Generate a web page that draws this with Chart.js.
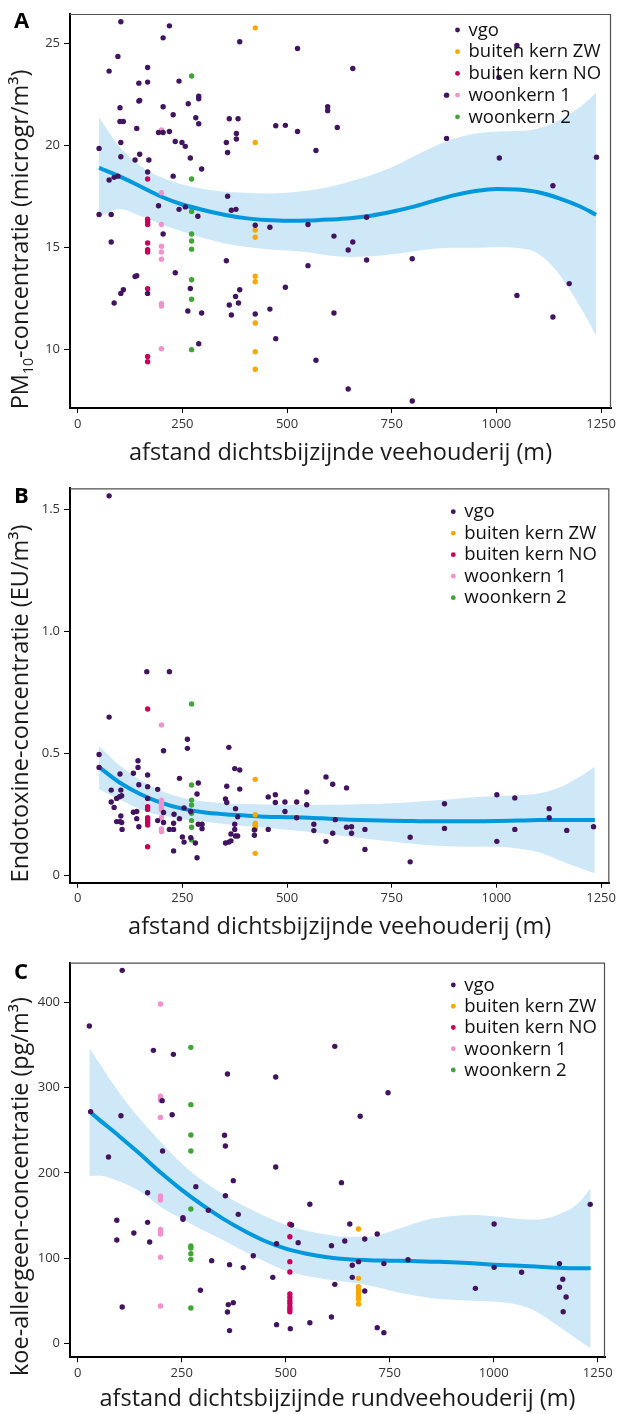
<!DOCTYPE html>
<html><head><meta charset="utf-8">
<script src="https://cdn.jsdelivr.net/npm/chart.js@4.4.1/dist/chart.umd.min.js"></script>
<style>
html,body{margin:0;padding:0;background:#fff;}
#wrap{position:relative;width:617px;height:1414px;overflow:hidden;background:#fff;}
canvas{position:absolute;left:0;}
</style></head><body>
<div id="wrap">
<canvas id="cA" width="617" height="470" style="top:0px"></canvas>
<canvas id="cB" width="617" height="480" style="top:470px"></canvas>
<canvas id="cC" width="617" height="464" style="top:950px"></canvas>
</div>
<script>
// ---------- categories ----------
const groupNames = ['vgo', 'buiten kern ZW', 'buiten kern NO', 'woonkern 1', 'woonkern 2'];
const groupColors = ['#42145F', '#F9A800', '#CA005D', '#F092CD', '#3FA535'];
const xTicks = [0, 250, 500, 750, 1000, 1250];

// ---------- panel A: PM10 ----------
const pmVgo = [[103,26.08],[219,25.88],[204,25.29],[387,25.1],[96,24.38],[75,23.66],[167,23.84],[146,23.07],[167,23.12],[242,23.17],[146,22.19],[148,22.22],[264,22.06],[289,22.3],[289,22.43],[101,21.86],[204,21.91],[228,21.52],[101,21.19],[109,21.19],[282,21.37],[289,21.08],[362,21.32],[383,21.32],[141,20.85],[193,20.65],[204,20.65],[219,20.7],[379,20.6],[379,20.33],[103,20.16],[233,20.21],[249,20.16],[257,19.97],[355,20.16],[358,19.67],[51,19.87],[103,19.46],[148,19.58],[137,19.3],[170,19.3],[269,19.4],[296,18.86],[167,18.71],[96,18.51],[87,18.45],[75,18.32],[228,18.51],[193,17.06],[242,16.88],[257,17.0],[287,16.54],[358,17.52],[367,16.84],[378,16.88],[51,16.63],[80,16.63],[424,16.1],[459,16.0],[550,16.14],[80,15.28],[204,15.67],[355,14.36],[550,14.12],[233,13.77],[137,13.59],[141,13.63],[269,13.0],[109,12.94],[103,12.76],[167,12.76],[377,12.61],[387,12.94],[87,12.29],[362,12.19],[384,12.29],[263,11.9],[296,11.8],[367,11.7],[424,11.75],[459,11.99],[289,10.29],[473,10.54],[496,13.06],[473,20.98],[496,21.0],[525,20.7],[525,24.77],[657,23.79],[1049,24.92],[1006,23.35],[881,22.48],[597,21.91],[597,21.72],[620,20.9],[569,19.77],[881,20.36],[1007,19.4],[1239,19.44],[1135,18.04],[690,16.49],[612,15.57],[657,15.28],[646,14.89],[690,14.4],[799,14.46],[1174,13.24],[1049,12.66],[1135,11.6],[612,11.8],[569,9.48],[646,8.07],[799,7.48]];
const pmZW = [[424,25.78],[424,20.16],[424,15.87],[424,15.51],[424,13.6],[424,13.33],[424,11.31],[424,9.9],[424,9.04]];
const pmNO = [[167,18.37],[167,16.4],[167,16.27],[167,16.14],[167,15.23],[167,14.9],[167,14.79],[167,12.99],[167,9.67],[167,9.41]];
const pmW1 = [[200,20.78],[200,17.7],[200,16.14],[200,15.07],[200,14.79],[200,14.44],[200,12.25],[200,12.14],[200,10.05]];
const pmW2 = [[272,23.42],[272,18.37],[272,16.78],[272,15.67],[272,15.33],[272,14.93],[272,13.43],[272,12.47],[272,10.0]];
const fitXA = [51,100,150,200,250,300,350,400,450,500,550,600,650,700,750,800,850,900,950,1000,1050,1100,1150,1200,1238];
const pmFit = [18.92,18.5,18.0,17.5,17.12,16.85,16.62,16.45,16.36,16.32,16.33,16.38,16.45,16.57,16.76,17.0,17.3,17.58,17.78,17.88,17.85,17.72,17.42,17.02,16.62];
const pmHi  = [21.4,19.95,19.0,18.45,18.1,17.88,17.75,17.7,17.66,17.7,17.8,17.98,18.25,18.55,18.95,19.45,19.95,20.35,20.6,20.7,20.72,20.85,21.25,21.9,22.6];
const pmLo  = [16.5,16.9,16.55,16.15,15.8,15.48,15.22,15.05,14.93,14.86,14.78,14.62,14.55,14.58,14.68,14.82,14.95,15.0,15.0,15.02,14.98,14.7,13.7,12.1,10.7];
const pmYTicks = [10, 15, 20, 25];

// ---------- panel B: endotoxine ----------
const etVgo = [[75,1.554],[75,0.648],[165,0.834],[219,0.834],[51,0.495],[51,0.442],[80,0.349],[80,0.300],[87,0.278],[93,0.315],[100,0.322],[105,0.326],[101,0.415],[103,0.349],[93,0.22],[101,0.22],[105,0.216],[103,0.243],[106,0.188],[133,0.418],[144,0.469],[144,0.442],[146,0.371],[133,0.258],[141,0.261],[141,0.232],[146,0.199],[167,0.411],[167,0.363],[167,0.315],[191,0.352],[191,0.224],[205,0.51],[205,0.257],[205,0.216],[219,0.188],[229,0.188],[229,0.213],[230,0.25],[243,0.397],[243,0.232],[229,0.1],[250,0.157],[254,0.136],[254,0.276],[262,0.557],[262,0.52],[270,0.261],[270,0.154],[281,0.132],[285,0.072],[288,0.378],[285,0.333],[288,0.209],[297,0.209],[297,0.191],[353,0.313],[356,0.298],[356,0.365],[361,0.524],[377,0.273],[382,0.24],[375,0.209],[375,0.188],[375,0.437],[387,0.431],[387,0.353],[353,0.132],[361,0.136],[366,0.141],[366,0.169],[377,0.161],[382,0.161],[422,0.186],[422,0.164],[455,0.321],[472,0.33],[472,0.298],[455,0.188],[495,0.3],[495,0.261],[523,0.3],[523,0.236],[547,0.341],[547,0.289],[593,0.403],[609,0.373],[642,0.358],[564,0.209],[564,0.183],[593,0.139],[609,0.172],[615,0.228],[642,0.197],[654,0.199],[654,0.172],[686,0.188],[686,0.106],[794,0.156],[794,0.055],[876,0.293],[876,0.192],[1001,0.33],[1001,0.139],[1044,0.317],[1044,0.188],[1126,0.273],[1126,0.236],[1168,0.184],[1232,0.199]];
const etZW = [[424,0.393],[424,0.248],[424,0.213],[424,0.205],[424,0.197],[424,0.188],[424,0.09]];
const etNO = [[167,0.681],[167,0.281],[167,0.27],[167,0.236],[167,0.227],[167,0.216],[167,0.206],[167,0.117]];
const etW1 = [[200,0.616],[200,0.308],[200,0.298],[200,0.288],[200,0.278],[200,0.268],[200,0.237],[200,0.19],[200,0.179]];
const etW2 = [[272,0.702],[272,0.37],[272,0.308],[272,0.288],[272,0.254],[272,0.224],[272,0.197],[272,0.145]];
const fitXB = [51,100,150,200,250,300,350,400,450,500,550,600,650,700,750,800,850,900,950,1000,1050,1100,1150,1200,1235];
const etFit = [0.443,0.38,0.332,0.297,0.273,0.258,0.25,0.245,0.24,0.238,0.236,0.232,0.228,0.225,0.223,0.222,0.221,0.221,0.221,0.222,0.224,0.226,0.227,0.227,0.227];
const etHi  = [0.53,0.45,0.39,0.345,0.318,0.303,0.295,0.292,0.29,0.289,0.288,0.289,0.29,0.292,0.295,0.3,0.306,0.313,0.32,0.325,0.328,0.335,0.36,0.405,0.445];
const etLo  = [0.352,0.31,0.27,0.245,0.23,0.22,0.21,0.202,0.195,0.187,0.178,0.168,0.158,0.148,0.138,0.129,0.122,0.118,0.117,0.117,0.11,0.095,0.062,0.03,0.008];
const etYTicks = [0, 0.5, 1.0, 1.5];
const etYLabels = ['0', '0.5', '1.0', '1.5'];

// ---------- panel C: koe-allergeen ----------
const alVgo = [[107,437.5],[28,372.2],[31,271.8],[104,267],[74,218.6],[182,343.7],[230,339],[203,284.7],[227,268.2],[204,225.6],[168,176.7],[94,144.3],[94,121.2],[135,129.4],[168,141.9],[173,118.9],[107,42.6],[284,183.8],[253,147.4],[253,145.5],[314,156],[322,97],[295,62.2],[360,316],[353,244],[355,231.5],[374,190.8],[355,173.2],[386,151.3],[365,92.3],[398,88.8],[422,102.8],[362,45.4],[374,47.7],[360,36.8],[365,14.9],[476,312.4],[476,206.8],[478,116.9],[469,77.4],[478,21.9],[514,138.8],[530,118.1],[511,17.2],[558,163.2],[558,24.2],[618,348.4],[746,294],[679,266.3],[634,188.5],[654,140],[720,128.2],[642,120],[690,122.4],[610,114.6],[660,91.5],[675,95.8],[736,93.5],[794,98.1],[660,77.4],[618,69.2],[690,61.4],[610,30.9],[720,18.4],[736,12.5],[1001,140],[1001,89.1],[956,64.5],[1067,83.3],[1158,93.5],[1166,75.1],[1158,65.7],[1174,54.4],[1167,37.1],[1232,163]];
const alZW = [[675,134.1],[675,76.2],[675,66.5],[675,63.7],[675,60.6],[675,57.9],[675,54.7],[675,51.6],[675,46.1]];
const alNO = [[510,139.6],[510,125.1],[510,95.8],[510,83.7],[510,58],[510,54],[510,50],[510,47],[510,43],[510,40],[510,37]];
const alW1 = [[199,398],[199,290],[199,287],[199,285],[199,265],[199,172.8],[199,170],[199,168],[199,133.7],[199,131],[199,128.3],[199,100.9],[199,43.8]];
const alW2 = [[272,347.2],[272,280],[272,244.4],[272,225.6],[272,157.6],[272,114.2],[272,111.8],[272,105.2],[272,98.5],[272,41.4]];
const fitXC = [28,50,100,150,200,250,300,350,400,450,500,550,600,650,700,750,800,850,900,950,1000,1050,1100,1150,1200,1233];
const alFit = [272,263,243,222,200,180,162,146,132,120,111,105,101,98.5,97.5,97,96.6,95.8,95,93.8,92.3,91.2,90,88.7,88,88];
const alHi  = [346,330,294,263,236,211,191,175,161,149,139,132,127.5,125,125,131,139,146,149.5,150.5,149,146.5,145,150,163,182];
const alLo  = [196,197,190,178,160,146,133,121,108,96,85,79,75,72,68,62,57,53,51,50,49,46,38,22,5,-6];
const alYTicks = [0, 100, 200, 300, 400];

// ---------- rendering ----------
const FONT = "'Open Sans', 'Noto Sans', 'DejaVu Sans', sans-serif";
const LINE_COLOR = '#0098DC';
const BAND_COLOR = '#CFE8F8';

const decor = {
  id: 'decor',
  afterDraw(chart, args, o) {
    const ctx = chart.ctx, a = chart.chartArea;
    ctx.save();
    ctx.strokeStyle = '#505050'; ctx.lineWidth = 1.2;
    ctx.beginPath();
    ctx.moveTo(a.left, a.top + 0.5); ctx.lineTo(a.right - 0.5, a.top + 0.5); ctx.lineTo(a.right - 0.5, a.bottom);
    ctx.stroke();
    ctx.fillStyle = '#000';
    ctx.font = `bold 22px ${FONT}`;
    ctx.textAlign = 'left'; ctx.textBaseline = 'alphabetic';
    ctx.fillText(o.letter, 14, o.letterY);
    ctx.font = `18.5px ${FONT}`;
    ctx.textBaseline = 'middle';
    groupNames.forEach((n, i) => {
      const y = o.legY + i * o.legDY;
      ctx.fillStyle = groupColors[i];
      ctx.beginPath(); ctx.arc(o.legX, y, 2.4, 0, Math.PI * 2); ctx.fill();
      ctx.fillStyle = '#111';
      ctx.fillText(n, o.legX + 11, y + 0.5);
    });
    const size = 23.5;
    ctx.translate(o.yTitleX, o.yTitleY);
    ctx.rotate(-Math.PI / 2);
    ctx.fillStyle = '#1a1a1a';
    let total = 0;
    o.yTitle.forEach(p => { ctx.font = `${size * p[1]}px ${FONT}`; total += ctx.measureText(p[0]).width; });
    let x = -total / 2;
    ctx.textAlign = 'left';
    o.yTitle.forEach(p => {
      ctx.font = `${size * p[1]}px ${FONT}`;
      ctx.fillText(p[0], x, p[2] * size);
      x += ctx.measureText(p[0]).width;
    });
    ctx.restore();
  }
};

function pts(arr) { return arr.map(p => ({x: p[0], y: p[1]})); }
function curve(xs, ys) { return xs.map((x, i) => ({x: x, y: ys[i]})); }

function makePanel(id, P) {
  const groups = [P.vgo, P.zw, P.no, P.w1, P.w2];
  const datasets = groups.map((g, i) => ({
    label: groupNames[i], data: pts(g), showLine: false,
    pointRadius: 2.7, pointHoverRadius: 2.7, pointBorderWidth: 0,
    pointBackgroundColor: groupColors[i], borderColor: groupColors[i]
  }));
  datasets.push({ label: 'fit', data: curve(P.fx, P.fit), showLine: true, pointRadius: 0,
    borderColor: LINE_COLOR, borderWidth: 4, cubicInterpolationMode: 'monotone', fill: false });
  datasets.push({ label: 'hi', data: curve(P.fx, P.hi), showLine: true, pointRadius: 0,
    borderWidth: 0, borderColor: 'rgba(0,0,0,0)', backgroundColor: BAND_COLOR,
    cubicInterpolationMode: 'monotone', fill: { target: 7 } });
  datasets.push({ label: 'lo', data: curve(P.fx, P.lo), showLine: true, pointRadius: 0,
    borderWidth: 0, borderColor: 'rgba(0,0,0,0)', cubicInterpolationMode: 'monotone', fill: false });

  const H = P.H;
  return new Chart(document.getElementById(id), {
    type: 'line',
    data: { datasets },
    plugins: [decor],
    options: {
      responsive: false, animation: false, devicePixelRatio: 1, events: [],
      layout: { padding: { left: 0, top: P.top, right: 617 - P.right, bottom: 0 } },
      plugins: {
        legend: { display: false }, tooltip: { enabled: false },
        decor: { letter: P.letter, letterY: P.letterY, legX: P.legX, legY: P.legY, legDY: P.legDY,
                 yTitle: P.yTitle, yTitleX: 21, yTitleY: P.yTitleY }
      },
      scales: {
        x: {
          type: 'linear', min: P.xmin, max: P.xmax,
          afterFit(s) { s.height = H - P.bottom; s.paddingLeft = 0; s.paddingRight = 0; },
          afterBuildTicks(s) { s.ticks = xTicks.map(v => ({ value: v })); },
          ticks: { font: { family: FONT, size: 13 }, color: '#333', padding: 3, maxRotation: 0, autoSkip: false,
                   callback: v => String(v) },
          grid: { drawOnChartArea: false, drawTicks: true, tickLength: 5, color: '#000', lineWidth: 1 },
          border: { display: true, color: '#000', width: 2 },
          title: { display: true, text: P.xTitle, color: '#1a1a1a',
                   font: { family: FONT, size: 23.5, lineHeight: 1 }, padding: { top: 0, bottom: P.xTitlePad } }
        },
        y: {
          type: 'linear', min: P.ymin, max: P.ymax,
          afterFit(s) { s.width = 70; s.paddingTop = 0; s.paddingBottom = 0; },
          afterBuildTicks(s) { s.ticks = P.yTicks.map(v => ({ value: v })); },
          ticks: { font: { family: FONT, size: 13 }, color: '#333', padding: 4, autoSkip: false,
                   callback: (v) => { const i = P.yTicks.indexOf(v); return P.yLabels ? P.yLabels[i] : String(v); } },
          grid: { drawOnChartArea: false, drawTicks: true, tickLength: 6, color: '#000', lineWidth: 1 },
          border: { display: true, color: '#000', width: 2 }
        }
      }
    }
  });
}

makePanel('cA', {
  H: 470, top: 14, right: 611, bottom: 408,
  xmin: -18.4, xmax: 1273.7, ymin: 7.14, ymax: 26.46, yTicks: pmYTicks,
  vgo: pmVgo, zw: pmZW, no: pmNO, w1: pmW1, w2: pmW2,
  fx: fitXA, fit: pmFit, hi: pmHi, lo: pmLo,
  xTitle: 'afstand dichtsbijzijnde veehouderij (m)', xTitlePad: 5,
  letter: 'A', letterY: 28, legX: 457.5, legY: 30, legDY: 21.7,
  yTitle: [['PM', 1, 0], ['10', 0.6, 0.32], ['-concentratie (microgr/m³)', 1, 0]], yTitleY: 239.5
});
makePanel('cB', {
  H: 480, top: 18.3, right: 609.3, bottom: 412.7,
  xmin: -18.4, xmax: 1269.6, ymin: -0.0303, ymax: 1.585, yTicks: etYTicks, yLabels: etYLabels,
  vgo: etVgo, zw: etZW, no: etNO, w1: etW1, w2: etW2,
  fx: fitXB, fit: etFit, hi: etHi, lo: etLo,
  xTitle: 'afstand dichtsbijzijnde veehouderij (m)', xTitlePad: 11,
  letter: 'B', letterY: 33, legX: 453.3, legY: 41.7, legDY: 21.5,
  yTitle: [['Endotoxine-concentratie (EU/m³)', 1, 0]], yTitleY: 233.5
});
makePanel('cC', {
  H: 464, top: 12.7, right: 605, bottom: 407.3,
  xmin: -18.5, xmax: 1267.5, ymin: -16.4, ymax: 446.5, yTicks: alYTicks,
  vgo: alVgo, zw: alZW, no: alNO, w1: alW1, w2: alW2,
  fx: fitXC, fit: alFit, hi: alHi, lo: alLo,
  xTitle: 'afstand dichtsbijzijnde rundveehouderij (m)', xTitlePad: 3,
  letter: 'C', letterY: 29, legX: 453.3, legY: 35, legDY: 21.25,
  yTitle: [['koe-allergeen-concentratie (pg/m³)', 1, 0]], yTitleY: 236.5
});
</script>
</body></html>
